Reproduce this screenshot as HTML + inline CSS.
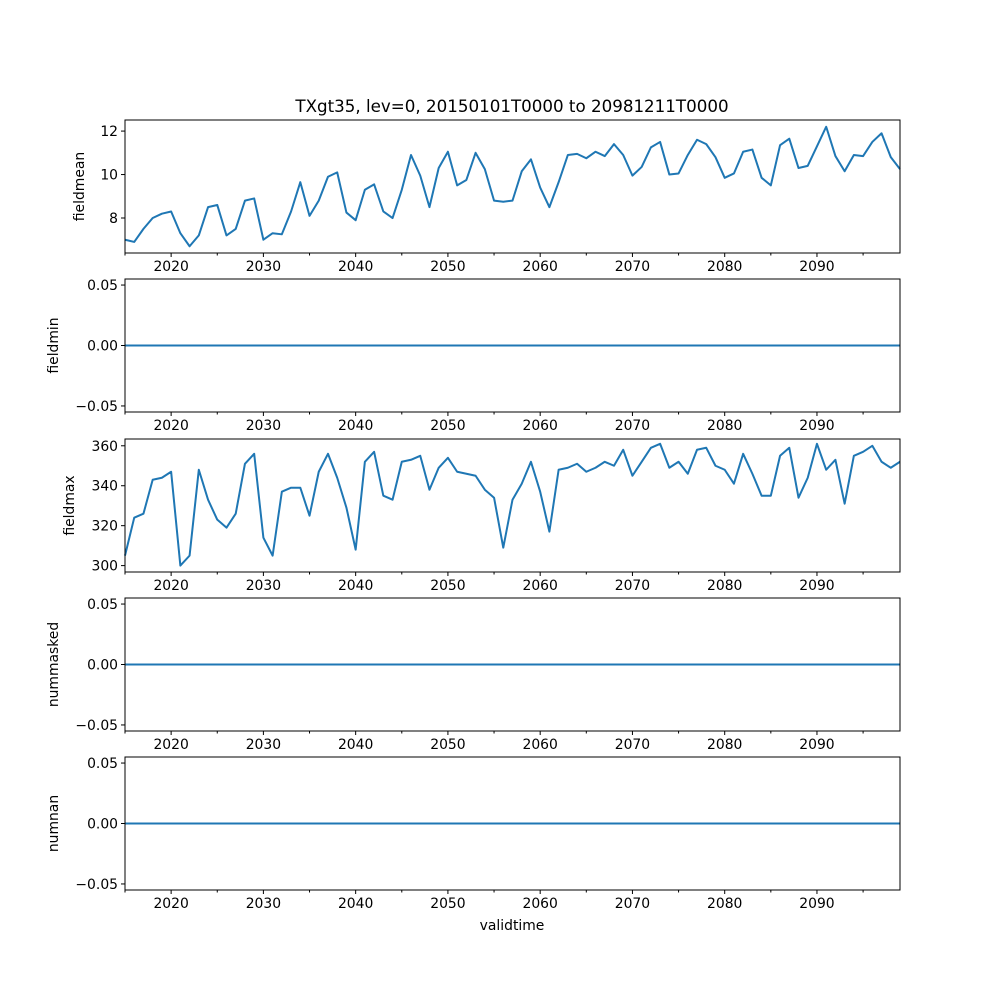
<!DOCTYPE html>
<html><head><meta charset="utf-8"><style>
html,body{margin:0;padding:0;background:#fff;}
svg{display:block;font-family:"DejaVu Sans","Liberation Sans",sans-serif;}
</style></head><body>
<svg id="chart" width="1000" height="1000" viewBox="0 0 1000 1000" xmlns="http://www.w3.org/2000/svg">
<rect width="1000" height="1000" fill="#fff"/>
<text x="512" y="112" text-anchor="middle" font-size="16.7">TXgt35, lev=0, 20150101T0000 to 20981211T0000</text>
<text x="512" y="930" text-anchor="middle" font-size="13.9">validtime</text>
</svg>
<script>
const years = Array.from({length:85},(_,i)=>2015+i);
const fieldmean = [7.0,6.9,7.5,8.0,8.2,8.3,7.3,6.7,7.2,8.5,
8.6,7.2,7.5,8.8,8.9,7.0,7.3,7.25,8.3,9.65,
8.1,8.8,9.9,10.1,8.25,7.9,9.3,9.55,8.3,8.0,
9.3,10.9,9.95,8.5,10.3,11.05,9.5,9.75,11.0,10.25,
8.8,8.75,8.8,10.15,10.7,9.4,8.5,9.65,10.9,10.95,
10.75,11.05,10.85,11.4,10.9,9.95,10.35,11.25,11.5,10.0,
10.05,10.9,11.6,11.4,10.8,9.85,10.05,11.05,11.15,9.85,
9.5,11.35,11.65,10.3,10.4,11.3,12.2,10.85,10.15,10.9,
10.85,11.5,11.9,10.8,10.25];
const fieldmax = [305,324,326,343,344,347,300,305,348,333,
323,319,326,351,356,314,305,337,339,339,
325,347,356,344,329,308,352,357,335,333,
352,353,355,338,349,354,347,346,345,338,
334,309,333,341,352,337,317,348,349,351,
347,349,352,350,358,345,352,359,361,349,
352,346,358,359,350,348,341,356,346,335,
335,355,359,334,344,361,348,353,331,355,
357,360,352,349,352];
const fieldmin = years.map(()=>0);
const nummasked = years.map(()=>0);
const numnan = years.map(()=>0);
const xTicks = [2020,2030,2040,2050,2060,2070,2080,2090];
const xMinor = [2015,2025,2035,2045,2055,2065,2075,2085,2095];
const zeroTicks = [-0.05,0,0.05];
const zeroLabels = ["\u22120.05","0.00","0.05"];

const NS="http://www.w3.org/2000/svg";
const svg=document.getElementById('chart');
const X0=125,X1=900,XMIN=2015,XMAX=2099;
function xs(v){return X0+(v-XMIN)/(XMAX-XMIN)*(X1-X0);}
function mk(tag,attrs,parent){const e=document.createElementNS(NS,tag);for(const k in attrs)e.setAttribute(k,attrs[k]);(parent||svg).appendChild(e);return e;}

const panels=[
 {name:'fieldmean',data:fieldmean,top:120,bot:253,ymin:6.39,ymax:12.51,ticks:[8,10,12],labels:['8','10','12'],lx:84},
 {name:'fieldmin',data:fieldmin,top:279,bot:412,ymin:-0.055,ymax:0.055,ticks:zeroTicks,labels:zeroLabels,lx:58},
 {name:'fieldmax',data:fieldmax,top:439,bot:572,ymin:296.8,ymax:363.4,ticks:[300,320,340,360],labels:['300','320','340','360'],lx:74},
 {name:'nummasked',data:nummasked,top:598,bot:731,ymin:-0.055,ymax:0.055,ticks:zeroTicks,labels:zeroLabels,lx:58},
 {name:'numnan',data:numnan,top:757,bot:890,ymin:-0.055,ymax:0.055,ticks:zeroTicks,labels:zeroLabels,lx:58}
];
panels.forEach(p=>{
 const g=mk('g',{});
 
 
 const ys=v=>p.bot-(v-p.ymin)/(p.ymax-p.ymin)*(p.bot-p.top);
 const pts=p.data.map((v,i)=>xs(years[i]).toFixed(2)+','+ys(v).toFixed(2)).join(' ');
 const line=mk('polyline',{points:pts,fill:'none',stroke:'#1f77b4','stroke-width':2,'stroke-linejoin':'round'},g);
 
 
 const frame=mk('rect',{x:X0,y:p.top,width:X1-X0,height:p.bot-p.top,fill:'none',stroke:'#000','stroke-width':1},g);
 
 
 p.ticks.forEach((t,i)=>{
  const y=ys(t);
  mk('line',{x1:X0-4,x2:X0,y1:y,y2:y,stroke:'#000'},g);
  const tx=mk('text',{x:X0-7,y:y+5,'text-anchor':'end','font-size':13.9},g);
  tx.textContent=p.labels[i];
  
  
 });
 xTicks.forEach(t=>{
  const x=xs(t);
  mk('line',{x1:x,x2:x,y1:p.bot,y2:p.bot+4,stroke:'#000'},g);
  const tx=mk('text',{x:x,y:p.bot+18,'text-anchor':'middle','font-size':13.9},g);
  tx.textContent=t;
  
  
 });
 xMinor.forEach(t=>{const x=xs(t);mk('line',{x1:x,x2:x,y1:p.bot,y2:p.bot+2.5,stroke:'#000'},g);});
 const cy=(p.top+p.bot)/2;
 const yl=mk('text',{x:p.lx,y:cy,'text-anchor':'middle','font-size':13.9,transform:`rotate(-90 ${p.lx} ${cy})`},g);
 yl.textContent=p.name;
 
 
});
</script>
</body></html>
